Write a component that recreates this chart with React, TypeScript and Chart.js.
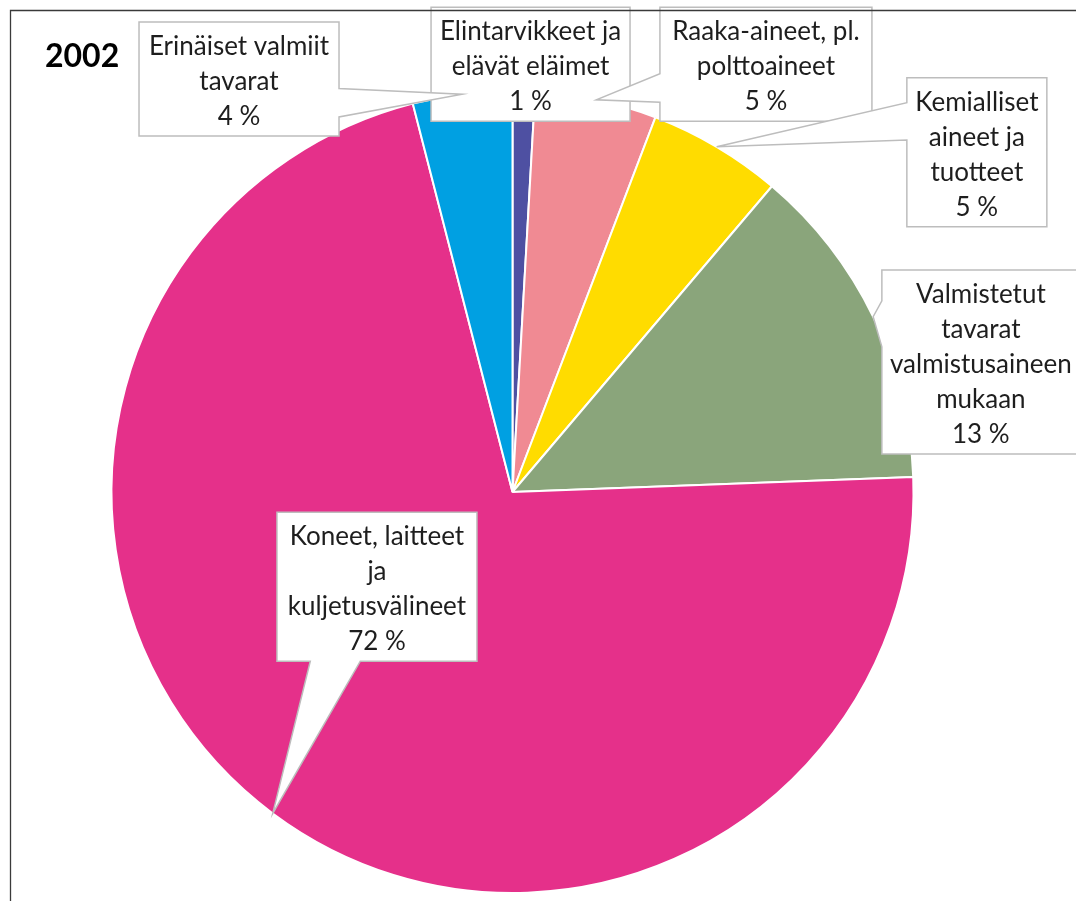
import React, { useEffect, useRef } from 'react';
import { Chart, registerables } from 'chart.js';

Chart.register(...registerables);

const TITLE = '2002';

// Category names, already broken into the lines used in the callouts
const CATEGORIES: string[][] = [
  ['Elintarvikkeet ja', 'elävät eläimet'],
  ['Raaka-aineet, pl.', 'polttoaineet'],
  ['Kemialliset', 'aineet ja', 'tuotteet'],
  ['Valmistetut', 'tavarat', 'valmistusaineen', 'mukaan'],
  ['Koneet, laitteet', 'ja', 'kuljetusvälineet'],
  ['Erinäiset valmiit', 'tavarat'],
];

// Shares of total (%)
const SHARES: number[] = [0.9, 4.9, 5.4, 13.2, 71.6, 4.0];

const COLORS: string[] = ['#4e50a2', '#f08a93', '#ffdc00', '#8aa57b', '#e5308a', '#00a0e2'];

// Callout box placement: centre offset from the pie centre in units of radius, width in px
const LABEL_LAYOUT = [
  { cx: 0.045, cy: -1.067, w: 199 },
  { cx: 0.632, cy: -1.067, w: 212 },
  { cx: 1.158, cy: -0.847, w: 140 },
  { cx: 1.168, cy: -0.324, w: 198 },
  { cx: -0.338, cy: 0.236, w: 200 },
  { cx: -0.682, cy: -1.03, w: 200 },
];

const FONT_FAMILY = 'Lato, "Noto Sans", sans-serif';
const LABEL_FONT_SIZE = 26;
const LINE_H = 35;
const FIRST_BASELINE = 33;
const BOX_EXTRA = 9;

const calloutPlugin = {
  id: 'callouts',
  afterDatasetsDraw(chart: any) {
    const ctx: CanvasRenderingContext2D = chart.ctx;
    const meta = chart.getDatasetMeta(0);
    const values: number[] = chart.data.datasets[0].data;
    const total = values.reduce((a, b) => a + b, 0);
    meta.data.forEach((arc: any, i: number) => {
      const p = arc.getProps(['x', 'y', 'startAngle', 'endAngle', 'outerRadius'], true);
      const mid = (p.startAngle + p.endAngle) / 2;
      const tipX = p.x + Math.cos(mid) * p.outerRadius;
      const tipY = p.y + Math.sin(mid) * p.outerRadius;
      const L = LABEL_LAYOUT[i];
      const lines = [...CATEGORIES[i], Math.round((values[i] / total) * 100) + ' %'];
      const w = L.w;
      const h = FIRST_BASELINE + LINE_H * (lines.length - 1) + BOX_EXTRA + 2;
      const bx = p.x + L.cx * p.outerRadius - w / 2;
      const by = p.y + L.cy * p.outerRadius - h / 2;
      const r = bx + w;
      const b = by + h;
      const dxPos = tipX - (bx + w / 2);
      const dyPos = tipY - (by + h / 2);
      const inside = tipX >= bx && tipX <= r && tipY >= by && tipY <= b;

      ctx.save();
      ctx.beginPath();
      if (inside) {
        ctx.rect(bx, by, w, h);
      } else if (Math.abs(dxPos) / w > Math.abs(dyPos) / h) {
        const g1 = dyPos > 0 ? 7 : 2;
        const g2 = dyPos > 0 ? 10 : 5;
        const y1 = by + (h * g1) / 12;
        const y2 = by + (h * g2) / 12;
        if (dxPos > 0) {
          ctx.moveTo(bx, by);
          ctx.lineTo(r, by);
          ctx.lineTo(r, y1);
          ctx.lineTo(tipX, tipY);
          ctx.lineTo(r, y2);
          ctx.lineTo(r, b);
          ctx.lineTo(bx, b);
        } else {
          ctx.moveTo(bx, by);
          ctx.lineTo(r, by);
          ctx.lineTo(r, b);
          ctx.lineTo(bx, b);
          ctx.lineTo(bx, y2);
          ctx.lineTo(tipX, tipY);
          ctx.lineTo(bx, y1);
        }
        ctx.closePath();
      } else {
        const g1 = dxPos > 0 ? 7 : 2;
        const g2 = dxPos > 0 ? 10 : 5;
        const x1 = bx + (w * g1) / 12;
        const x2 = bx + (w * g2) / 12;
        if (dyPos < 0) {
          ctx.moveTo(bx, by);
          ctx.lineTo(x1, by);
          ctx.lineTo(tipX, tipY);
          ctx.lineTo(x2, by);
          ctx.lineTo(r, by);
          ctx.lineTo(r, b);
          ctx.lineTo(bx, b);
        } else {
          ctx.moveTo(bx, by);
          ctx.lineTo(r, by);
          ctx.lineTo(r, b);
          ctx.lineTo(x2, b);
          ctx.lineTo(tipX, tipY);
          ctx.lineTo(x1, b);
          ctx.lineTo(bx, b);
        }
        ctx.closePath();
      }
      ctx.fillStyle = '#ffffff';
      ctx.fill();
      ctx.lineWidth = 1.5;
      ctx.strokeStyle = '#bdbdbd';
      ctx.lineJoin = 'miter';
      ctx.stroke();

      ctx.fillStyle = '#1e1e1e';
      ctx.font = `${LABEL_FONT_SIZE}px ${FONT_FAMILY}`;
      ctx.textAlign = 'center';
      ctx.textBaseline = 'alphabetic';
      lines.forEach((t, k) => {
        ctx.fillText(t, bx + w / 2, by + FIRST_BASELINE + LINE_H * k);
      });
      ctx.restore();
    });
  },
  afterDraw(chart: any) {
    const ctx: CanvasRenderingContext2D = chart.ctx;
    ctx.save();
    // title
    ctx.fillStyle = '#000000';
    ctx.font = `bold 32px ${FONT_FAMILY}`;
    ctx.textAlign = 'left';
    ctx.textBaseline = 'alphabetic';
    ctx.fillText(TITLE, 45, 67);
    // chart frame (top and left edges visible)
    ctx.strokeStyle = '#3a3a3a';
    ctx.lineWidth = 1.3;
    ctx.beginPath();
    ctx.moveTo(10.5, chart.height + 5);
    ctx.lineTo(10.5, 10.5);
    ctx.lineTo(chart.width + 5, 10.5);
    ctx.stroke();
    ctx.restore();
  },
};

export default function App() {
  const canvasRef = useRef<HTMLCanvasElement | null>(null);

  useEffect(() => {
    if (!canvasRef.current) return;
    const chart = new Chart(canvasRef.current, {
      type: 'pie',
      data: {
        labels: CATEGORIES,
        datasets: [
          {
            data: SHARES,
            backgroundColor: COLORS,
            borderColor: '#ffffff',
            borderWidth: 2,
          },
        ],
      },
      options: {
        responsive: true,
        maintainAspectRatio: false,
        animation: false,
        layout: {
          padding: { left: 110.5, top: 90, right: 161.5, bottom: 7 },
        },
        plugins: {
          legend: { display: false },
          tooltip: { enabled: false },
          title: { display: false },
        },
      },
      plugins: [calloutPlugin],
    });
    return () => chart.destroy();
  }, []);

  return (
    <div
      style={{
        position: 'fixed',
        left: 0,
        top: 0,
        width: 1076,
        height: 901,
        background: '#ffffff',
      }}
    >
      <canvas ref={canvasRef} />
    </div>
  );
}
